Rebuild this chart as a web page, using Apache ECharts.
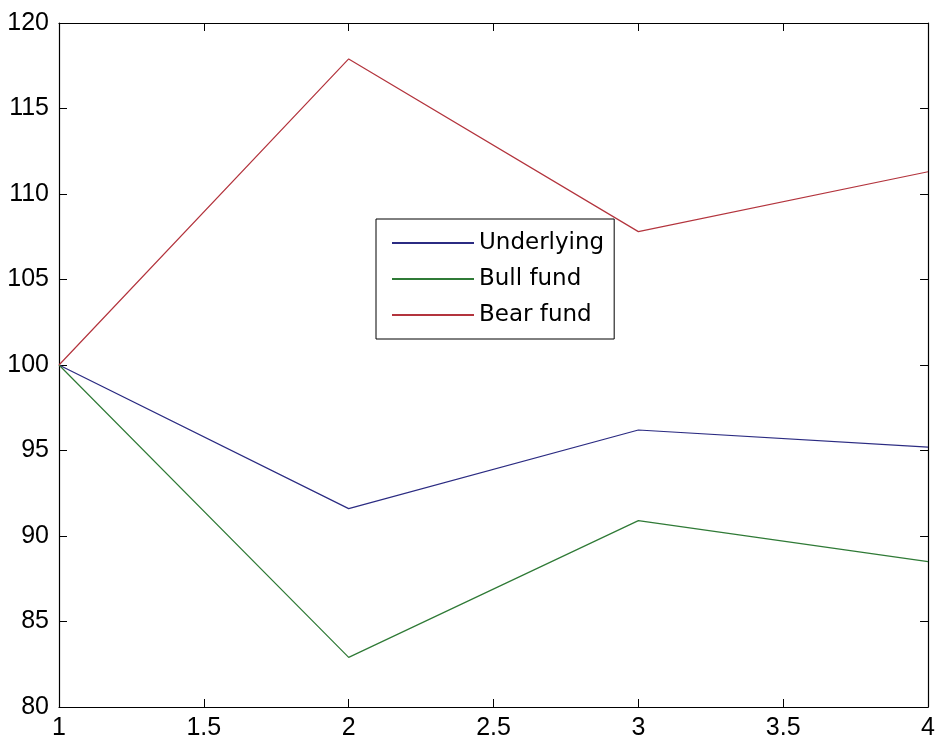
<!DOCTYPE html>
<html>
<head>
<meta charset="utf-8">
<script src="https://cdn.jsdelivr.net/npm/echarts@6/dist/echarts.min.js"></script>
<style>
  html, body { margin: 0; padding: 0; background: #fff; }
  #main { width: 938px; height: 742px; }
</style>
</head>
<body>
<div id="main"></div>
<script>
// x positions (periods) and the three price paths
const periods = [1, 2, 3, 4]
const underlying = [100, 91.6, 96.2, 95.2]
const bullFund = [100, 82.9, 90.9, 88.5]
const bearFund = [100, 117.9, 107.8, 111.3]
const seriesNames = ['Underlying', 'Bull fund', 'Bear fund']
const seriesColors = ['#2b2b82', '#2f7a36', '#b3343d']

const TICK_FONT = '"Liberation Sans", sans-serif'
const LEGEND_FONT = '"DejaVu Sans", sans-serif'

function pairs(values) {
  return periods.map((p, i) => [p, values[i]])
}

const chart = echarts.init(document.getElementById('main'))

// box axes like MATLAB, ticks pointing inward
const tickStyle = { show: true, inside: true, length: 8, lineStyle: { color: '#000', width: 1 } }
const axisLineStyle = { show: true, lineStyle: { color: '#000', width: 1.2 } }
const tickLabel = { fontFamily: TICK_FONT, fontSize: 25, color: '#000' }

const option = {
  backgroundColor: '#fff',
  animation: false,
  grid: { left: 59, right: 7, top: 23, bottom: 35, show: false },
  legend: {
    orient: 'vertical',
    left: 376,
    top: 219,
    data: seriesNames,
    icon: 'rect',
    borderColor: '#000',
    borderWidth: 1,
    padding: [12, 10, 12, 16],
    itemWidth: 82,
    itemHeight: 2,
    itemGap: 12,
    backgroundColor: '#fff',
    textStyle: { fontFamily: LEGEND_FONT, fontSize: 23, color: '#000', lineHeight: 24 }
  },
  xAxis: [
    {
      type: 'value', min: 1, max: 4, interval: 0.5,
      axisLine: axisLineStyle, axisTick: tickStyle, splitLine: { show: false },
      axisLabel: { ...tickLabel, margin: 9 }
    },
    {
      type: 'value', position: 'top', min: 1, max: 4, interval: 0.5,
      axisLine: axisLineStyle, axisTick: tickStyle, splitLine: { show: false },
      axisLabel: { show: false }
    }
  ],
  yAxis: [
    {
      type: 'value', min: 80, max: 120, interval: 5,
      axisLine: axisLineStyle, axisTick: tickStyle, splitLine: { show: false },
      axisLabel: { ...tickLabel, margin: 10 }
    },
    {
      type: 'value', position: 'right', min: 80, max: 120, interval: 5,
      axisLine: axisLineStyle, axisTick: tickStyle, splitLine: { show: false },
      axisLabel: { show: false }
    }
  ],
  series: [underlying, bullFund, bearFund].map((vals, i) => ({
    name: seriesNames[i],
    type: 'line',
    symbol: 'none',
    data: pairs(vals),
    lineStyle: { color: seriesColors[i], width: 1.2 },
    itemStyle: { color: seriesColors[i] }
  }))
}

option && chart.setOption(option)
</script>
</body>
</html>
